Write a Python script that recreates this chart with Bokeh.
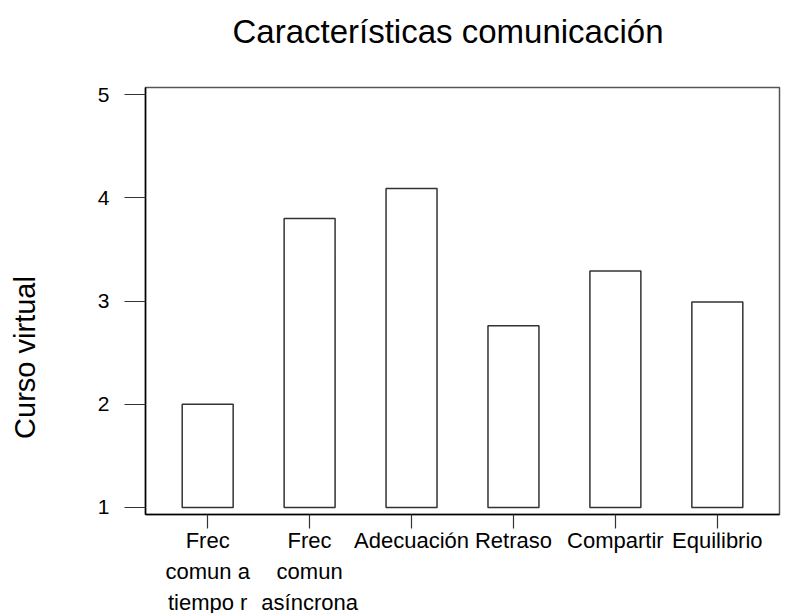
import math
from bokeh.plotting import figure
from bokeh.layouts import column, row
from bokeh.models import FactorRange, Range1d, FixedTicker, ColumnDataSource
from bokeh.core.properties import value
from bokeh.embed import file_html
from bokeh.resources import INLINE

categories = ["Frec\ncomun a\ntiempo r", "Frec\ncomun\nasíncrona", "Adecuación",
              "Retraso", "Compartir", "Equilibrio"]
values = [2.0, 3.8, 4.09, 2.76, 3.29, 2.99]
y_ticks = [1, 2, 3, 4, 5]
baseline = 1
title_text = "Características comunicación"
y_label = "Curso virtual"

FONT = "Liberation Sans"
W, H = 799, 613
LEFT_W = 60          # strip holding the vertical axis title
TOP_H = 77           # strip holding the chart title
MAIN_H = 455         # plot area strip
BOTTOM_H = H - TOP_H - MAIN_H   # strip holding the category labels
FRAME_L, FRAME_R = 145, 779     # page x of the plot frame
FRAME_T, FRAME_B = 87, 514      # page y of the plot frame
MB_TOP, MB_BOTTOM = FRAME_T - TOP_H, TOP_H + MAIN_H - FRAME_B


def blank(width, height, x_range, y_range, **borders):
    f = figure(width=width, height=height, x_range=x_range, y_range=y_range,
               x_axis_type=None, y_axis_type=None,
               output_backend="svg", toolbar_location=None, tools="", **borders)
    f.outline_line_color = None
    f.background_fill_color = "white"
    f.border_fill_color = "white"
    return f


source = ColumnDataSource(dict(cat=categories, val=values, base=[baseline] * len(values)))
x_range = FactorRange(*categories, range_padding=0.11, range_padding_units="absolute")

# ---- main plot ----
p = figure(
    width=W - LEFT_W, height=MAIN_H,
    x_range=x_range, y_range=Range1d(0.932, 5.068),
    output_backend="svg", toolbar_location=None, tools="",
    min_border_left=FRAME_L - LEFT_W, min_border_right=W - FRAME_R,
    min_border_top=MB_TOP, min_border_bottom=MB_BOTTOM,
)
p.vbar(x="cat", top="val", bottom="base", width=0.5, source=source,
       fill_color="white", line_color="#333333", line_width=1.5)
p.xgrid.visible = False
p.ygrid.visible = False
p.outline_line_color = "#555555"
p.outline_line_width = 1.5
p.background_fill_color = "white"
p.border_fill_color = "white"

xa = p.xaxis[0]
xa.major_tick_out = 14
xa.major_tick_in = 0
xa.minor_tick_line_color = None
xa.major_label_standoff = 0
xa.major_label_text_font_size = "1px"
xa.major_label_text_alpha = 0.0
xa.axis_line_color = "black"
xa.axis_line_width = 1.5
xa.major_tick_line_color = "#333333"
xa.major_tick_line_width = 1.2

ya = p.yaxis[0]
ya.ticker = FixedTicker(ticks=y_ticks)
ya.major_tick_out = 21
ya.major_tick_in = 0
ya.minor_tick_line_color = None
ya.major_label_standoff = 15
ya.major_label_text_font = FONT
ya.major_label_text_font_size = "21px"
ya.major_label_text_color = "black"
ya.axis_line_color = "black"
ya.axis_line_width = 1.5
ya.major_tick_line_color = "#333333"
ya.major_tick_line_width = 1.2

# ---- title strip (page pixel coordinates, y downward) ----
pt = blank(W, TOP_H, Range1d(FRAME_L, FRAME_R), Range1d(TOP_H, 0),
           min_border_left=FRAME_L, min_border_right=W - FRAME_R,
           min_border_top=0, min_border_bottom=0)
pt.text(x=[232], y=[31], text=[title_text], text_align="left", text_baseline="middle",
        text_font=value(FONT), text_font_size="33px", text_color="black")

# ---- left strip with the vertical axis title (page pixel coordinates) ----
pl = blank(LEFT_W, MAIN_H, Range1d(0, LEFT_W), Range1d(FRAME_B, FRAME_T),
           min_border_left=0, min_border_right=0,
           min_border_top=MB_TOP, min_border_bottom=MB_BOTTOM)
pl.text(x=[24], y=[357], text=[y_label], angle=math.pi / 2,
        text_align="center", text_baseline="middle",
        text_font=value(FONT), text_font_size="29px", text_color="black")

# ---- bottom strip with the category labels (shares the category scale) ----
pb = blank(W, BOTTOM_H, x_range, Range1d(BOTTOM_H, 0),
           min_border_left=FRAME_L, min_border_right=W - FRAME_R,
           min_border_top=0, min_border_bottom=0)
lab_src = ColumnDataSource(dict(cat=categories))
pb.text(x="cat", y=-5, text="cat", source=lab_src,
        text_align="center", text_baseline="top",
        text_font=value(FONT), text_font_size="22px", text_color="black",
        text_line_height=1.25)

layout = column(pt, row(pl, p, spacing=0), pb, spacing=0)

open("out.html", "w").write(file_html(layout, INLINE))
